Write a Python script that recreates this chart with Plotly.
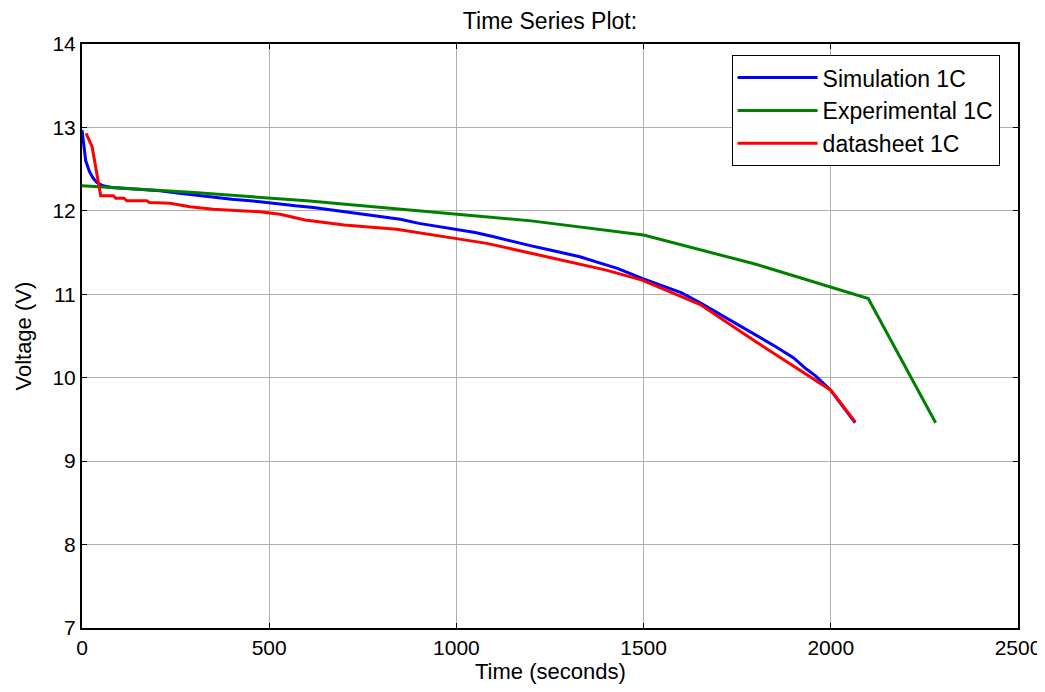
import plotly.graph_objects as go

sim_t = [0, 5, 10, 20, 30, 40, 56, 80, 120, 160, 208, 260, 300, 350, 400, 475, 529, 570, 618, 700, 796, 850, 900, 996, 1050, 1100, 1152, 1200, 1250, 1330, 1380, 1430, 1496, 1550, 1600, 1650, 1700, 1750, 1800, 1850, 1900, 1930, 1960, 2000, 2030, 2065]
sim_v = [12.97, 12.75, 12.6, 12.47, 12.39, 12.34, 12.30, 12.28, 12.27, 12.26, 12.24, 12.21, 12.19, 12.16, 12.14, 12.11, 12.08, 12.06, 12.04, 11.99, 11.93, 11.90, 11.85, 11.78, 11.74, 11.69, 11.63, 11.58, 11.53, 11.45, 11.38, 11.31, 11.19, 11.10, 11.02, 10.90, 10.77, 10.65, 10.52, 10.38, 10.24, 10.12, 10.02, 9.85, 9.67, 9.46]

exp_t = [0, 300, 600, 900, 1200, 1500, 1800, 2100, 2280]
exp_v = [12.30, 12.22, 12.12, 12.00, 11.88, 11.71, 11.36, 10.95, 9.46]

ds_t = [11, 27, 50, 84, 90, 112, 120, 173, 180, 235, 288, 350, 422, 475, 529, 596, 700, 840, 996, 1081, 1241, 1400, 1496, 1650, 1800, 2000, 2065]
ds_v = [12.93, 12.77, 12.18, 12.18, 12.15, 12.15, 12.12, 12.12, 12.10, 12.09, 12.05, 12.02, 12.00, 11.99, 11.96, 11.89, 11.83, 11.78, 11.67, 11.61, 11.45, 11.29, 11.17, 10.88, 10.43, 9.85, 9.47]

x_ticks = [0, 500, 1000, 1500, 2000, 2500]
y_ticks = [7, 8, 9, 10, 11, 12, 13, 14]

FONT = "Liberation Sans, Arial"

fig = go.Figure()
fig.add_trace(go.Scatter(x=sim_t, y=sim_v, mode="lines", name="Simulation 1C",
                         line=dict(color="#0000ff", width=3)))
fig.add_trace(go.Scatter(x=exp_t, y=exp_v, mode="lines", name="Experimental 1C",
                         line=dict(color="#008000", width=3)))
fig.add_trace(go.Scatter(x=ds_t, y=ds_v, mode="lines", name="datasheet 1C",
                         line=dict(color="#ff0000", width=3)))

axis_common = dict(
    showline=True, linecolor="black", linewidth=2, mirror="ticks",
    ticks="inside", ticklen=5, tickcolor="black", tickwidth=1,
    showgrid=True, gridcolor="#b0b0b0", gridwidth=1, zeroline=False,
    automargin=False,
    tickfont=dict(family=FONT, size=21, color="black"),
)

fig.update_layout(
    width=1045, height=692,
    margin=dict(l=74, r=35, t=36, b=72),
    paper_bgcolor="white", plot_bgcolor="white",
    title=dict(text="Time Series Plot:", x=0.5, xref="paper", xanchor="center",
               y=0.982, yanchor="middle",
               font=dict(family=FONT, size=23, color="black")),
    xaxis=dict(range=[0, 2500], tickvals=x_ticks, ticktext=[str(v) for v in x_ticks],
               **axis_common),
    yaxis=dict(range=[7, 14], tickvals=y_ticks, ticktext=[str(v) for v in y_ticks],
               **axis_common),
    legend=dict(x=0.694, y=0.981, xanchor="left", yanchor="top",
                bgcolor="white", bordercolor="black", borderwidth=1,
                font=dict(family=FONT, size=23, color="black"),
                itemwidth=80, tracegroupgap=0),
    showlegend=True,
    annotations=[
        dict(text="Time (seconds)", xref="paper", yref="paper", x=0.5, y=-0.0753,
             xanchor="center", yanchor="middle", showarrow=False,
             font=dict(family=FONT, size=22, color="black")),
        dict(text="Voltage (V)", xref="paper", yref="paper", x=-0.0635, y=0.5,
             xanchor="center", yanchor="middle", showarrow=False, textangle=-90,
             font=dict(family=FONT, size=22, color="black")),
    ],
)

fig.write_html("out.html")
